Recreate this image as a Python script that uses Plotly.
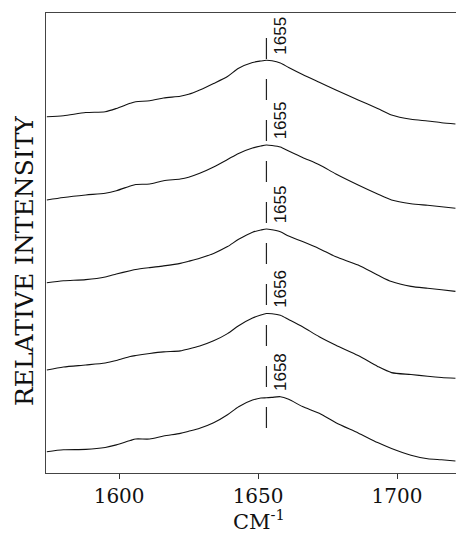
import plotly.graph_objects as go

# Wavenumbers (cm^-1) at which the spectra were read
wavenumber = [1574, 1580, 1588, 1595, 1599, 1604, 1606, 1611, 1616, 1622, 1625, 1629, 1634,
              1639, 1643, 1648, 1651, 1653, 1655, 1658, 1661, 1666, 1672, 1678, 1686, 1693,
              1698, 1705, 1711, 1716, 1721]

# Relative intensities of the five spectra (top to bottom)
spec1 = [16.3, 17.3, 20.5, 21.3, 24.5, 29.7, 31.3, 32.2, 35, 36.8, 38.7, 43, 49.5, 56.5, 64.7,
         70.5, 72, 72.7, 72.2, 70, 65.5, 58.5, 50.7, 43, 33, 24.5, 18, 13.7, 12, 10.3, 9]
spec2 = [18, 20.5, 23, 24.8, 27.3, 32, 33.5, 34, 37.2, 39, 40.8, 44.7, 51, 58.5, 64.6, 70, 72,
         73, 72.5, 71, 67, 60.5, 53.3, 44, 33, 24, 18, 14.3, 12.7, 11.3, 9.7]
spec3 = [20.3, 22.2, 23.4, 26, 29, 32.3, 33.5, 35.4, 37.1, 39.6, 41.7, 44.7, 49.6, 56.4, 63.7,
         70.8, 73, 74, 73.2, 71.2, 67, 61.4, 54.3, 46.2, 37.9, 28, 21.4, 16.6, 14.7, 13.2, 11.6]
spec4 = [18, 21, 23, 25, 27.5, 31.5, 32.5, 34.5, 36.1, 37.1, 39, 42, 47.2, 54.4, 62.3, 70, 73,
         74.5, 74.3, 72.8, 68.5, 61.2, 51.3, 42.8, 32.5, 21.6, 15.4, 13.5, 11.7, 10.5, 9.7]
spec5 = [21.3, 23.2, 23.6, 25.5, 28.1, 32.5, 34, 34, 37, 39.6, 41.7, 44.7, 50.2, 58.2, 66.3,
         72.9, 75, 75.2, 75.6, 76.3, 73.7, 66.4, 59.7, 50.3, 40, 30.4, 24.5, 17.8, 14.2, 13.2, 12]

spectra = [spec1, spec2, spec3, spec4, spec5]
offsets = [340, 255, 170, 85, 0]
peak_labels = ["1655", "1655", "1655", "1656", "1658"]

reference_line_x = 1653
reference_line_y = [45, 435]

x_ticks = [1600, 1650, 1700]

fig = go.Figure()

# dashed reference line (drawn bottom to top)
fig.add_trace(go.Scatter(
    x=[reference_line_x, reference_line_x], y=reference_line_y, mode="lines",
    line=dict(color="#222", width=1.2, dash="21px,20px"), showlegend=False, hoverinfo="skip"))

for spec, off in zip(spectra, offsets):
    fig.add_trace(go.Scatter(
        x=wavenumber, y=[v + off for v in spec], mode="lines",
        line=dict(color="#111", width=1.1, shape="spline", smoothing=0.7),
        showlegend=False))

for spec, off, lab in zip(spectra, offsets, peak_labels):
    fig.add_annotation(
        x=1658, y=max(spec) + off + 25, text=lab, textangle=-90, showarrow=False,
        xanchor="center", yanchor="middle",
        font=dict(family="Liberation Sans, Arial, sans-serif", size=17, color="#111"))

fig.add_annotation(
    x=0.52, y=-0.137, xref="paper", yref="paper", text="CM<sup>-1</sup>", showarrow=False,
    xanchor="center", yanchor="bottom",
    font=dict(family="DejaVu Serif, serif", size=21, color="#111"))

fig.add_annotation(
    x=-0.052, y=0.46, xref="paper", yref="paper", text="RELATIVE INTENSITY", showarrow=False,
    textangle=-90, xanchor="center", yanchor="middle",
    font=dict(family="DejaVu Serif, serif", size=25, color="#111"))

fig.update_xaxes(
    range=[1573.7, 1721.2], tickvals=x_ticks, ticks="outside", ticklen=5, tickwidth=1,
    tickcolor="#333", showline=True, linecolor="#444", linewidth=1.3, mirror=True,
    showgrid=False, zeroline=False,
    tickfont=dict(family="DejaVu Serif, serif", size=20, color="#111"))
fig.update_yaxes(
    range=[0, 460], showticklabels=False, ticks="", showline=True, linecolor="#444",
    linewidth=1.3, showgrid=False, zeroline=False)

fig.update_layout(
    width=456, height=536, margin=dict(l=46, r=0, t=13, b=63),
    paper_bgcolor="white", plot_bgcolor="white")

fig.write_html(
    "out.html",
    config={"displayModeBar": False},
    post_script="document.body.style.margin='0';document.body.style.overflow='hidden';")
